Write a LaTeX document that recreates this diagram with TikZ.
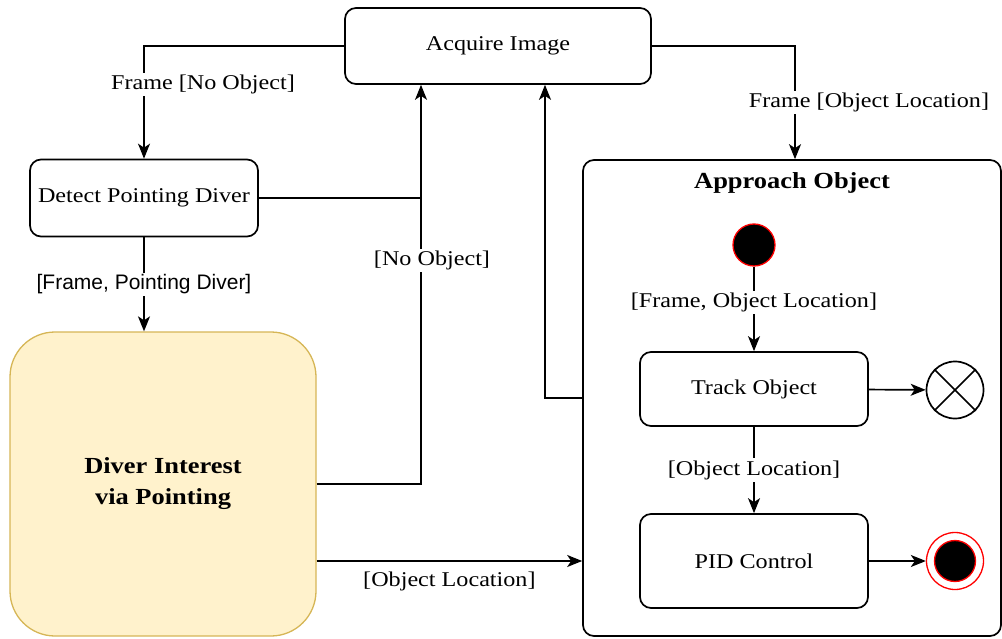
\documentclass[tikz,border=0pt]{standalone}
\usepackage{fontspec}
\setmainfont{Liberation Serif}[FakeStretch=1.15]
\newfontfamily\labelsans{Liberation Sans}
\usepackage{tikz}
\usetikzlibrary{arrows.meta}

\definecolor{noteyellow}{HTML}{FFF2CC}
\definecolor{noteedge}{HTML}{D6B656}

\tikzset{
  state/.style={draw,line width=1.7pt,rounded corners=11pt,inner sep=0pt,align=center},
  guard/.style={fill=white,inner sep=2pt},
}

\begin{document}
\begin{tikzpicture}[x=1pt,y=-1pt,line width=1.7pt,>={Stealth[length=15pt,width=12pt,inset=4pt]},
  font=\fontsize{21}{26}\selectfont]
      \useasboundingbox (0,0) rectangle (1002,639);

      \node[state,minimum width=306pt,minimum height=76pt] (acquire) at (498,46) {Acquire Image};
      \node[state,minimum width=228pt,minimum height=77pt] (detect) at (144,198) {Detect Pointing Diver};
      \node[state,draw=noteedge,fill=noteyellow,line width=1.3pt,rounded corners=45pt,
            minimum width=306pt,minimum height=304pt,font=\fontsize{23}{31}\selectfont\bfseries] (diver) at (163,484) {Diver Interest\\via Pointing};
      \node[state,minimum width=418pt,minimum height=476pt] (approach) at (792,398) {};
      \node[font=\fontsize{23}{26}\selectfont\bfseries] (title) at (792,183) {Approach Object};

      %% inner states
      \node[circle,draw=red,fill=black,line width=1.3pt,minimum size=42pt,inner sep=0pt] (init) at (754,245) {};
      \node[state,minimum width=228pt,minimum height=74pt] (track) at (754,389) {Track Object};
      \node[state,minimum width=228pt,minimum height=94pt] (pid) at (754,561) {PID Control};
      \node[circle,draw,minimum size=57pt,inner sep=0pt] (abort) at (955,390) {};
      \node[circle,draw=red,line width=1.3pt,minimum size=57pt,inner sep=0pt] (done) at (955,561) {};
      \node[circle,draw=red,fill=black,line width=1.3pt,minimum size=41pt,inner sep=0pt] (donedot) at (done) {};
      \draw (abort.north east) -- (abort.south west);
      \draw (abort.north west) -- (abort.south east);

      %% outer transitions
      \draw[->] (acquire.west) -| node[guard,pos=0.67,xshift=59pt] {Frame [No Object]} (detect.north);
      \draw[->] (acquire.east) -| node[guard,pos=0.75,xshift=74pt] {Frame [Object Location]} ([xshift=3pt]approach.north);
      \draw[->] (detect.south) -- node[guard,font=\labelsans\fontsize{21}{26}\selectfont] {[Frame, Pointing Diver]} (detect.south |- diver.north);
      \draw (detect.east) -- ([xshift=-77pt]acquire.south |- detect.east);
      \draw[->] (diver.east) -| node[guard,pos=0.78,xshift=11pt] {[No Object]} ([xshift=-77pt]acquire.south);
      \draw[->] ([yshift=-77pt]diver.east) -- node[below=7pt] {[Object Location]} ([yshift=-77pt]diver.east -| approach.west);
      \draw[->] (approach.west) -| ([xshift=47pt]acquire.south);

      %% inner transitions
      \draw[->] (init) -- node[guard,pos=0.42] {[Frame, Object Location]} (track);
      \draw[->] (track) -- node[guard] {[Object Location]} (pid);
      \draw[->] (track) -- (abort);
      \draw[->] (pid) -- (done);
    \end{tikzpicture}
\end{document}
